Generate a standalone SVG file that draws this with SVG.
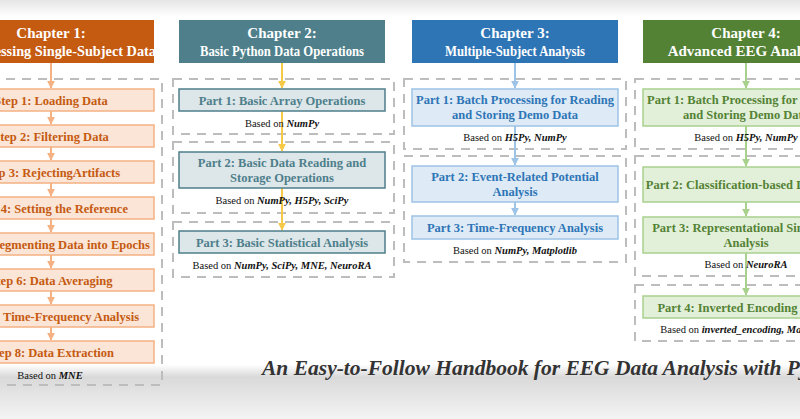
<svg xmlns="http://www.w3.org/2000/svg" width="800" height="419" viewBox="0 0 800 419" font-family="'Liberation Serif', 'Times New Roman', Times, serif">
<defs>
<linearGradient id="bg" x1="0" y1="0" x2="0" y2="1">
<stop offset="0" stop-color="#e6e6e6"/><stop offset="0.04" stop-color="#ffffff"/><stop offset="0.87" stop-color="#ffffff"/><stop offset="0.9" stop-color="#d9d9d9"/><stop offset="1" stop-color="#f4f4f4"/>
</linearGradient>
<marker id="a1" viewBox="0 0 10 10" refX="9" refY="5" markerWidth="4" markerHeight="4" orient="auto"><path d="M0,0L10,5L0,10z" fill="#f4b183"/></marker>
<marker id="a2" viewBox="0 0 10 10" refX="9" refY="5" markerWidth="4" markerHeight="4" orient="auto"><path d="M0,0L10,5L0,10z" fill="#f7c948"/></marker>
<marker id="a3" viewBox="0 0 10 10" refX="9" refY="5" markerWidth="4" markerHeight="4" orient="auto"><path d="M0,0L10,5L0,10z" fill="#9dc3e6"/></marker>
<marker id="a4" viewBox="0 0 10 10" refX="9" refY="5" markerWidth="4" markerHeight="4" orient="auto"><path d="M0,0L10,5L0,10z" fill="#a9d18e"/></marker>
</defs>
<style>
text{text-anchor:middle}
.hd{font-size:15px;font-weight:bold;fill:#fff}
.bx{font-size:12.5px;font-weight:bold}
.bs{font-size:10.5px;fill:#111}
.bs tspan{font-weight:bold;font-style:italic}
.dash{fill:none;stroke:#bdbdbd;stroke-width:2;stroke-dasharray:9,7}
.c1 rect{fill:#fbe5d6;stroke:#f4b183;stroke-width:1.5}.c1 text.bx{fill:#c55a11}
.c2 rect{fill:#dde6e9;stroke:#4e7f8b;stroke-width:1.5}.c2 text.bx{fill:#4e7f8b}
.c3 rect{fill:#deebf7;stroke:#9dc3e6;stroke-width:1.5}.c3 text.bx{fill:#2e75b6}
.c4 rect{fill:#e2f0d9;stroke:#a9d18e;stroke-width:1.5}.c4 text.bx{fill:#548235}
</style>
<rect width="800" height="419" fill="url(#bg)"/>

<g id="containers">
<rect class="dash" x="-10" y="79" width="172" height="306"/>
<rect class="dash" x="173" y="79" width="221" height="55"/>
<rect class="dash" x="173" y="142" width="221" height="71"/>
<rect class="dash" x="173" y="222" width="221" height="55"/>
<rect class="dash" x="404" y="79" width="222" height="70"/>
<rect class="dash" x="404" y="156" width="222" height="106"/>
<rect class="dash" x="635" y="79" width="180" height="70"/>
<rect class="dash" x="635" y="156" width="180" height="120"/>
<rect class="dash" x="635" y="285" width="180" height="56"/>
</g>

<g id="connectors" fill="none" stroke-width="2">
<g stroke="#f4b183" marker-end="url(#a1)">
<line x1="51" y1="63" x2="51" y2="88"/><line x1="51" y1="111" x2="51" y2="124"/><line x1="51" y1="147" x2="51" y2="160"/><line x1="51" y1="183" x2="51" y2="196"/><line x1="51" y1="219" x2="51" y2="232"/><line x1="51" y1="255" x2="51" y2="268"/><line x1="51" y1="291" x2="51" y2="304"/><line x1="51" y1="327" x2="51" y2="340"/>
</g>
<g stroke="#f7c948" marker-end="url(#a2)">
<line x1="282" y1="63" x2="282" y2="88"/><line x1="282" y1="111" x2="282" y2="151"/><line x1="282" y1="188" x2="282" y2="230"/>
</g>
<g stroke="#9dc3e6" marker-end="url(#a3)">
<line x1="515" y1="63" x2="515" y2="88"/><line x1="515" y1="126" x2="515" y2="165"/><line x1="515" y1="202" x2="515" y2="215"/>
</g>
<g stroke="#a9d18e" marker-end="url(#a4)">
<line x1="746" y1="63" x2="746" y2="88"/><line x1="746" y1="126" x2="746" y2="166"/><line x1="746" y1="202" x2="746" y2="216"/><line x1="746" y1="253" x2="746" y2="295"/>
</g>
</g>

<g id="ch1">
<rect x="-52" y="20" width="206" height="43" fill="#c55a11"/>
<text class="hd" x="51" y="38">Chapter 1:</text>
<text class="hd" x="51" y="56" textLength="210" lengthAdjust="spacingAndGlyphs">Preprocessing Single-Subject Data</text>
</g>
<g id="ch1-steps" class="c1">
<rect x="-52" y="89" width="206" height="22"/><text class="bx" x="51" y="105">Step 1: Loading Data</text>
<rect x="-52" y="125" width="206" height="22"/><text class="bx" x="51" y="141">Step 2: Filtering Data</text>
<rect x="-52" y="161" width="206" height="22"/><text class="bx" x="51" y="177">Step 3: RejectingArtifacts</text>
<rect x="-52" y="197" width="206" height="22"/><text class="bx" x="51" y="213">Step 4: Setting the Reference</text>
<rect x="-52" y="233" width="206" height="22"/><text class="bx" x="51" y="249">Step 5: Segmenting Data into Epochs</text>
<rect x="-52" y="269" width="206" height="22"/><text class="bx" x="51" y="285">Step 6: Data Averaging</text>
<rect x="-52" y="305" width="206" height="22"/><text class="bx" x="51" y="321">Step 7: Time-Frequency Analysis</text>
<rect x="-52" y="341" width="206" height="22"/><text class="bx" x="51" y="357">Step 8: Data Extraction</text>
<text class="bs" x="50" y="379">Based on <tspan>MNE</tspan></text>
</g>

<g id="ch2">
<rect x="179" y="20" width="206" height="43" fill="#4e7f8b"/>
<text class="hd" x="282" y="38">Chapter 2:</text>
<text class="hd" x="282" y="56" textLength="164" lengthAdjust="spacingAndGlyphs">Basic Python Data Operations</text>
</g>
<g id="ch2-parts" class="c2">
<rect x="179" y="89" width="206" height="22"/><text class="bx" x="282" y="105">Part 1: Basic Array Operations</text>
<text class="bs" x="282" y="127">Based on <tspan>NumPy</tspan></text>
<rect x="179" y="152" width="206" height="36"/><text class="bx" x="282" y="167">Part 2: Basic Data Reading and</text><text class="bx" x="282" y="182">Storage Operations</text>
<text class="bs" x="282" y="204">Based on <tspan>NumPy, H5Py, SciPy</tspan></text>
<rect x="179" y="231" width="206" height="22"/><text class="bx" x="282" y="247">Part 3: Basic Statistical Analysis</text>
<text class="bs" x="282" y="269">Based on <tspan>NumPy, SciPy, MNE, NeuroRA</tspan></text>
</g>

<g id="ch3">
<rect x="412" y="20" width="206" height="43" fill="#2e75b6"/>
<text class="hd" x="515" y="38">Chapter 3:</text>
<text class="hd" x="515" y="56" textLength="140" lengthAdjust="spacingAndGlyphs">Multiple-Subject Analysis</text>
</g>
<g id="ch3-parts" class="c3">
<rect x="412" y="89" width="206" height="37"/><text class="bx" x="515" y="104">Part 1: Batch Processing for Reading</text><text class="bx" x="515" y="119">and Storing Demo Data</text>
<text class="bs" x="515" y="141">Based on <tspan>H5Py, NumPy</tspan></text>
<rect x="412" y="166" width="206" height="36"/><text class="bx" x="515" y="181">Part 2: Event-Related Potential</text><text class="bx" x="515" y="196">Analysis</text>
<rect x="412" y="216" width="206" height="23"/><text class="bx" x="515" y="232">Part 3: Time-Frequency Analysis</text>
<text class="bs" x="515" y="254">Based on <tspan>NumPy, Matplotlib</tspan></text>
</g>

<g id="ch4">
<rect x="643" y="20" width="206" height="43" fill="#548235"/>
<text class="hd" x="746" y="38">Chapter 4:</text>
<text class="hd" x="746" y="56">Advanced EEG Analysis</text>
</g>
<g id="ch4-parts" class="c4">
<rect x="643" y="89" width="206" height="37"/><text class="bx" x="746" y="104">Part 1: Batch Processing for Reading</text><text class="bx" x="746" y="119">and Storing Demo Data</text>
<text class="bs" x="746" y="141">Based on <tspan>H5Py, NumPy</tspan></text>
<rect x="643" y="167" width="206" height="35"/><text class="bx" x="746" y="189">Part 2: Classification-based Decoding</text>
<rect x="643" y="217" width="206" height="36"/><text class="bx" x="746" y="232">Part 3: Representational Similarity</text><text class="bx" x="746" y="247">Analysis</text>
<text class="bs" x="746" y="268">Based on <tspan>NeuroRA</tspan></text>
<rect x="643" y="296" width="206" height="22"/><text class="bx" x="746" y="312">Part 4: Inverted Encoding Model</text>
<text class="bs" x="746" y="333">Based on <tspan>inverted_encoding, Matplotlib</tspan></text>
</g>

<text id="title" x="262" y="375" style="text-anchor:start;font-size:21.5px;font-weight:bold;font-style:italic;fill:#333">An Easy-to-Follow Handbook for EEG Data Analysis with Python</text>
</svg>
